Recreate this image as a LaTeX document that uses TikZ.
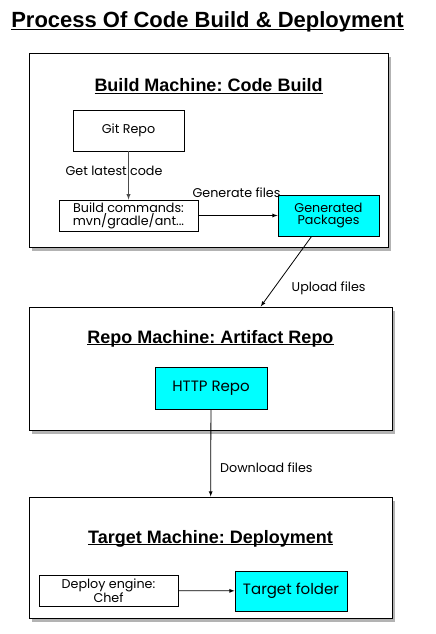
\documentclass[tikz,border=0pt]{standalone}
\usepackage{fontspec}
\setmainfont{Poppins}
\newfontfamily\hfont{Liberation Sans}
\frenchspacing
\usetikzlibrary{shadows}
\definecolor{aqua}{RGB}{0,255,255}
\tikzset{mc/.style = {draw, fill=white, line width=1pt, inner sep=0pt,
                      drop shadow={shadow xshift=2.5pt, shadow yshift=-3.5pt, opacity=.6}},
           bx/.style = {draw, fill=white, line width=.8pt, inner sep=0pt, align=center,
                        font=\fontsize{12.7}{12}\selectfont},
           cy/.style = {bx, fill=aqua},
           hd/.style = {inner sep=0pt, anchor=base, font=\hfont\bfseries\fontsize{18}{18}\selectfont},
           lb/.style = {inner sep=0pt, anchor=base, font=\fontsize{12.7}{12}\selectfont}}

\begin{document}
\begin{tikzpicture}[x=1pt, y=-1pt, >=latex]
    \useasboundingbox (0,0) rectangle (436,634);
    \node[hd, font=\hfont\bfseries\fontsize{22}{22}\selectfont] (ttl) at (207.5,28)
        {\underline{\smash{Process Of Code Build \& Deployment}}};
    % build machine
    \node[mc, minimum width=359, minimum height=193] (bm) at (208.5,150.5) {};
    \node[hd] (bmt) at (208.5,91.5) {\underline{\smash{Build Machine: Code Build}}};
    \node[bx, minimum width=111, minimum height=41] (git) at (128.5,130.5) {Git Repo};
    \node[bx, minimum width=139, minimum height=31] (cmd) at (128.5,215.5) {Build commands:\\mvn/gradle/ant...};
    \node[cy, minimum width=101, minimum height=41] (gen) at (328.5,215.5) {Generated\\Packages};
    % repo machine
    \node[mc, minimum width=363, minimum height=123] (rm) at (210.5,368.5) {};
    \node[hd] (rmt) at (210.5,343) {\underline{\smash{Repo Machine: Artifact Repo}}};
    \node[cy, minimum width=112, minimum height=42, font=\fontsize{15}{15}\selectfont] (http) at (211,388) {HTTP Repo};
    % target machine
    \node[mc, minimum width=363, minimum height=121] (tm) at (210.5,557.5) {};
    \node[hd] (tmt) at (210.5,543) {\underline{\smash{Target Machine: Deployment}}};
    \node[bx, minimum width=139, minimum height=31] (dep) at (108.5,590.5) {Deploy engine:\\Chef};
    \node[cy, minimum width=112, minimum height=40, font=\fontsize{15}{15}\selectfont] (tf) at (291,591) {Target folder};
    % connectors
    \draw[->, black!70, line width=.9pt] (git) to node[lb, black, xshift=-14.5pt] {Get latest code} (cmd);
    \draw[->, line width=.8pt] (cmd) to node[lb, xshift=-1.5pt, yshift=18.5pt] {Generate files} (gen);
    \draw[->, line width=.8pt] (gen.-129) to node[lb, xshift=42.5pt, yshift=-20.5pt] {Upload files} (rm.51);
    \draw[->, line width=.8pt] (http) to node[lb, anchor=base west, xshift=9pt, yshift=-20pt] {Download files} (tm);
    \draw[->, line width=.8pt] (dep) to (tf);
\end{tikzpicture}
\end{document}
